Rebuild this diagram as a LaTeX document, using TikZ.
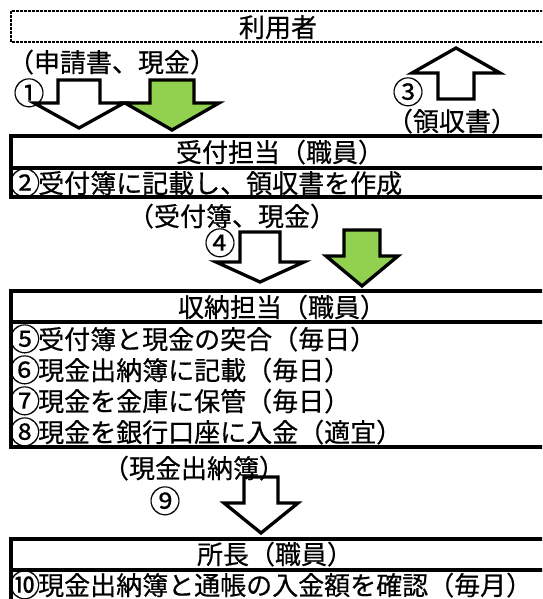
\documentclass[tikz,border=0pt]{standalone}
\usepackage{fontspec}
\setmainfont{Noto Sans CJK JP}[FakeBold=0.5]
\newfontfamily\cnumfont{Noto Sans CJK JP}[FakeBold=0.2]
\definecolor{arrowgreen}{RGB}{146,208,80}
\newcommand\BlockArrow[7]{% style, cx, shaft start, head base, tip, shaft half, head half
  \draw[#1] (#2-#6,#3) -- (#2+#6,#3) -- (#2+#6,#4) -- (#2+#7,#4) -- (#2,#5)
    -- (#2-#7,#4) -- (#2-#6,#4) -- cycle;}
\newcommand\cnum[1]{\makebox[27pt]{\raisebox{-1.6pt}{\cnumfont\fontsize{31}{31}\selectfont #1}}}
\begin{document}
\begin{tikzpicture}[x=1pt,y=-1pt,
  lbl/.style={inner sep=0pt, font=\fontsize{26}{26}\selectfont, text height=23pt, text depth=3pt},
  rowtext/.style={lbl, anchor=west},
  boxline/.style={line width=3.3pt},
  dotbox/.style={line width=2.6pt, dash pattern=on 2.6pt off 1.4pt},
  whitearrow/.style={draw=black, fill=white, line width=3.3pt, miter limit=20},
  greenarrow/.style={draw=black, fill=arrowgreen, line width=3.3pt, miter limit=20}]
\useasboundingbox (0,0) rectangle (542,599);
\clip (0,0) rectangle (542,599);

% boxes
\draw[dotbox] (11,11) rectangle (560,42);
\draw[boxline] (11,136) rectangle (560,197);
\draw[boxline] (11,168) -- (560,168);
\draw[boxline] (11,291) rectangle (560,447);
\draw[boxline] (11,322) -- (560,322);
\draw[boxline] (11,539) rectangle (560,615);
\draw[boxline] (11,570) -- (560,570);

% arrows
\BlockArrow{whitearrow}{79}{80}{103}{128}{21}{45}
\BlockArrow{greenarrow}{172}{80}{103}{130}{22}{47}
\BlockArrow{whitearrow}{456}{99}{73}{48}{18}{44}
\BlockArrow{whitearrow}{260}{232}{262}{282}{20}{44}
\BlockArrow{greenarrow}{362}{230}{256}{286}{18}{36}
\BlockArrow{whitearrow}{261}{477}{503}{533}{17}{37}

% texts
\node[lbl] (user) at (278,27) {利用者};
\node[lbl] (apply) at (112,62) {（申請書、現金）};
\node[lbl] (n1) at (29,93) {\cnum{①}};
\node[lbl] (n3) at (408,92) {\cnum{③}};
\node[lbl] (receipt) at (452,121) {（領収書）};

\node[lbl] (recv) at (280,152) {受付担当（職員）};
\node[rowtext] (s2) at (11,183) {\cnum{②}受付簿に記載し、領収書を作成};

\node[lbl] (book) at (232,216) {（受付簿、現金）};
\node[lbl] (n4) at (220,243) {\cnum{④}};

\node[lbl] (store) at (282,307) {収納担当（職員）};
\node[rowtext] (s5) at (11,339) {\cnum{⑤}受付簿と現金の突合（毎日）};
\node[rowtext] (s6) at (11,370) {\cnum{⑥}現金出納簿に記載（毎日）};
\node[rowtext] (s7) at (11,401) {\cnum{⑦}現金を金庫に保管（毎日）};
\node[rowtext] (s8) at (11,432) {\cnum{⑧}現金を銀行口座に入金（適宜）};

\node[lbl] (cash) at (194,468) {（現金出納簿）};
\node[lbl] (n9) at (165,501) {\cnum{⑨}};

\node[lbl] (chief) at (275,554) {所長（職員）};
\node[rowtext] (s10) at (11,585) {\cnum{⑩}現金出納簿と通帳の入金額を確認（毎月）};
\end{tikzpicture}
\end{document}
